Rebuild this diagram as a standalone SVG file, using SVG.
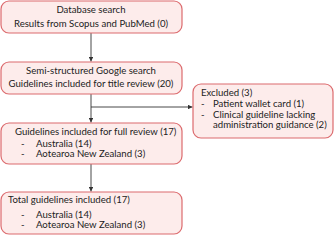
<svg xmlns="http://www.w3.org/2000/svg" width="336" height="235" viewBox="0 0 336 235">
<defs>
<marker id="ah" viewBox="0 0 6 6" refX="6" refY="3" markerWidth="5" markerHeight="5" orient="auto">
<path d="M0,0 L6,3 L0,6 z" fill="#333"/>
</marker>
<style>
.box{fill:#fdeceb;stroke:#dc6b6e;stroke-width:1.2}
.t{font-family:Lato,"Open Sans",sans-serif;font-size:9.6px;fill:#222}
.c{text-anchor:middle}
.ln{stroke:#333;stroke-width:0.9;fill:none}
</style>
</defs>
<g id="connectors">
<line class="ln" x1="91" y1="33" x2="91" y2="61.5" marker-end="url(#ah)"/>
<line class="ln" x1="91" y1="94" x2="91" y2="122.5" marker-end="url(#ah)"/>
<line class="ln" x1="91" y1="107" x2="192.5" y2="107" marker-end="url(#ah)"/>
<line class="ln" x1="91" y1="164" x2="91" y2="191.5" marker-end="url(#ah)"/>
</g>
<g id="n1">
<rect class="box" x="1" y="1" width="181" height="32" rx="8"/>
<text class="t c" x="91" y="13">Database search</text>
<text class="t c" x="91" y="27">Results from Scopus and PubMed (0)</text>
</g>
<g id="n2">
<rect class="box" x="1" y="62" width="181" height="32" rx="8"/>
<text class="t c" x="91" y="74">Semi-structured Google search</text>
<text class="t c" x="91" y="87">Guidelines included for title review (20)</text>
</g>
<g id="n3">
<rect class="box" x="193" y="84" width="140" height="54" rx="8"/>
<text class="t" x="201" y="96">Excluded (3)</text>
<text class="t" y="107"><tspan x="201">-</tspan><tspan x="213">Patient wallet card (1)</tspan></text>
<text class="t" y="117.5"><tspan x="201">-</tspan><tspan x="213">Clinical guideline lacking</tspan></text>
<text class="t" x="213" y="128">administration guidance (2)</text>
</g>
<g id="n4">
<rect class="box" x="1" y="123" width="181" height="41" rx="8"/>
<text class="t" x="15" y="135">Guidelines included for full review (17)</text>
<text class="t" y="146.5"><tspan x="21">-</tspan><tspan x="36">Australia (14)</tspan></text>
<text class="t" y="157"><tspan x="21">-</tspan><tspan x="36">Aotearoa New Zealand (3)</tspan></text>
</g>
<g id="n5">
<rect class="box" x="1" y="192" width="181" height="42" rx="8"/>
<text class="t" x="8" y="203">Total guidelines included (17)</text>
<text class="t" y="217.5"><tspan x="21">-</tspan><tspan x="36">Australia (14)</tspan></text>
<text class="t" y="228"><tspan x="21">-</tspan><tspan x="36">Aotearoa New Zealand (3)</tspan></text>
</g>
</svg>
